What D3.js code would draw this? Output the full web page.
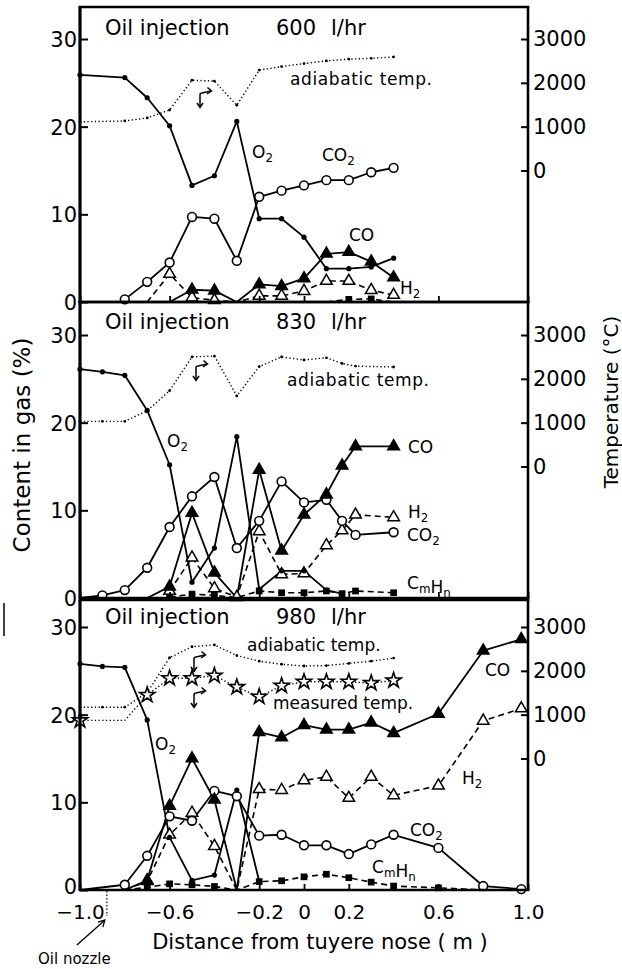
<!DOCTYPE html>
<html><head><meta charset="utf-8">
<script src="https://cdn.jsdelivr.net/npm/d3@7"></script>
<style>
body{margin:0;background:#fff}
svg{display:block}
text{font-family:"DejaVu Sans",sans-serif;fill:#000}
</style>
</head><body>
<svg id="c" width="622" height="969"></svg>
<script>
// ---------------- DATA ----------------
const xTicks = [-1.0, -0.6, -0.2, 0, 0.2, 0.6, 1.0];
const xTickLabels = ["−1.0", "−0.6", "−0.2", "0", "0.2", "0.6", "1.0"];
const yTicks = [0, 10, 20, 30];
const tempTicks = [0, 1000, 2000, 3000];
const oilRates = ["600", "830", "980"];
const nozzleX = -0.88;

// Panel 1 : 600 l/hr
const p1x      = [-1.0, -0.8, -0.7, -0.6, -0.5, -0.4, -0.3, -0.2, -0.1, 0.0, 0.1, 0.2, 0.3, 0.4];
const p1O2     = [25.9, 25.6, 23.3, 20.1, 13.3, 14.4, 20.6, 9.5, 9.5, 7.4, 3.8, 3.8, 4.0, 5.0];
const p1CO2    = [null, 0.3, 2.3, 4.5, 9.7, 9.5, 4.7, 12.0, 12.7, 13.3, 13.9, 13.9, 14.8, 15.3];
const p1CO     = [null, null, null, 0, 1.4, 1.3, 0, 2.0, 1.8, 2.7, 5.5, 5.7, 4.6, 2.8];
const p1H2     = [null, null, 0, 3.2, 0.5, 0.2, 0, 0.7, 0.7, 1.25, 2.4, 2.4, 1.35, 0.8];
const p1CmHn   = [null, null, null, null, null, null, null, null, null, null, 0, 0.3, 0.35, 0];
const p1Adiab  = [1110, 1130, 1200, 1380, 2060, 2040, 1490, 2290, 2370, 2440, 2500, 2540, 2560, 2590];

// Panel 2 : 830 l/hr
const p2x      = [-1.0, -0.9, -0.8, -0.7, -0.6, -0.5, -0.4, -0.3, -0.2, -0.1, 0.0, 0.1, 0.17, 0.23, 0.4];
const p2O2     = [26.1, 25.8, 25.4, 21.4, 15.2, 1.8, 5.7, 18.4, 1.0, 3.1, 3.1, 0.9, 0.5, null, null];
const p2CO2    = [0, 0.3, 0.9, 3.45, 8.1, 11.6, 13.8, 5.7, 8.8, 13.3, 10.9, 11.2, 8.8, 7.2, 7.5];
const p2CO     = [null, null, null, 0, 1.3, 9.7, 2.9, 0, 14.6, 5.4, 9.5, 11.8, 15.1, 17.3, 17.3];
const p2H2     = [null, null, null, null, 0.8, 4.6, 1.1, 0.1, 7.6, 2.7, 2.8, 6.0, 7.7, 9.5, 9.2];
const p2CmHn   = [null, null, null, null, 0.1, 0.45, 0.3, 0.05, 0.8, 0.6, 0.6, 0.8, 0.5, 0.8, 0.6];
const p2Adiab  = [1030, 1030, 1030, 1270, 1730, 2500, 2520, 1610, 2280, 2500, 2430, 2480, 2350, 2290, 2270];

// Panel 3 : 980 l/hr
const p3x      = [-1.0, -0.9, -0.8, -0.7, -0.6, -0.5, -0.4, -0.3, -0.2, -0.1, 0.0, 0.1, 0.2, 0.3, 0.4, 0.6, 0.8, 0.97];
const p3O2     = [25.8, 25.5, 25.4, 19.4, 6.0, 1.1, 1.7, 11.4, 1.0, null, null, null, null, null, null, null, null, null];
const p3CO2    = [0, null, 0.6, 3.9, 8.4, 7.9, 11.3, 10.7, 6.2, 6.3, 5.1, 5.1, 4.1, 5.2, 6.3, 4.8, 0.45, 0.1];
const p3CO     = [null, null, 0, 1.1, 9.6, 15.0, 10.3, 0, 18.0, 17.4, 18.8, 18.3, 18.3, 19.1, 17.9, 20.1, 27.3, 28.6];
const p3H2     = [null, null, 0, 1.0, 6.3, 8.8, 5.0, 0, 11.5, 11.4, 12.5, 12.9, 10.5, 12.9, 10.8, 11.9, 19.3, 20.7];
const p3CmHn   = [null, null, 0, 0.3, 0.7, 0.6, 0.4, 0, 0.95, 1.05, 1.5, 1.8, 1.4, 0.9, 0.45, 0.25, 0, null];
const p3Adiab  = [1170, 1170, 1170, 1500, 2300, 2550, 2590, 2350, 2220, 2150, 2110, 2120, 2170, 2220, 2290, null, null, null];
const p3Meas   = [870, null, 870, 1450, 1830, 1830, 1890, 1630, 1410, 1660, 1750, 1750, 1750, 1720, 1780, null, null, null];
const p3MeasKnots = [-0.8];

// ---------------- DRAW ----------------
const svg = d3.select("#c");
const X = d3.scaleLinear().domain([-1, 1]).range([80, 528]);

const styles = {
  O2:   {dash: null,      w: 1.8, marker: "dot"},
  CO2:  {dash: null,      w: 1.8, marker: "circle"},
  CO:   {dash: null,      w: 1.8, marker: "tri"},
  H2:   {dash: "6,4",     w: 1.6, marker: "otri"},
  CmHn: {dash: "6,4",     w: 1.6, marker: "square"},
  adiab:{dash: "1.3,2.4", w: 1.4, marker: "sdot", temp: true},
  meas: {dash: "1.3,2.4", w: 1.4, marker: "star", temp: true}
};

const panels = [
  {top: 7,   zero: 302, xs: p1x, s: {O2: p1O2, CO2: p1CO2, CO: p1CO, H2: p1H2, CmHn: p1CmHn, adiab: p1Adiab}},
  {top: 302, zero: 598, xs: p2x, s: {O2: p2O2, CO2: p2CO2, CO: p2CO, H2: p2H2, CmHn: p2CmHn, adiab: p2Adiab}},
  {top: 600, zero: 890, xs: p3x, s: {O2: p3O2, CO2: p3CO2, CO: p3CO, H2: p3H2, CmHn: p3CmHn, adiab: p3Adiab, meas: p3Meas}}
];

function marker(g, type, x, y) {
  if (type === "dot") g.append("circle").attr("cx", x).attr("cy", y).attr("r", 2.6).attr("fill", "#000");
  else if (type === "sdot") g.append("circle").attr("cx", x).attr("cy", y).attr("r", 1.4).attr("fill", "#000");
  else if (type === "circle") g.append("circle").attr("cx", x).attr("cy", y).attr("r", 4.4).attr("fill", "#fff").attr("stroke", "#000").attr("stroke-width", 1.6);
  else if (type === "tri" || type === "otri") g.append("path").attr("d", d3.symbol(d3.symbolTriangle, 58)()).attr("transform", `translate(${x},${y})`)
      .attr("fill", type === "tri" ? "#000" : "#fff").attr("stroke", "#000").attr("stroke-width", 1.5);
  else if (type === "square") g.append("path").attr("d", d3.symbol(d3.symbolSquare, 45)()).attr("transform", `translate(${x},${y})`).attr("fill", "#000");
  else if (type === "star") g.append("path").attr("d", d3.symbol(d3.symbolStar, 72)()).attr("transform", `translate(${x},${y})`)
      .attr("fill", "#fff").attr("stroke", "#000").attr("stroke-width", 1.6);
}

function bentArrow(g, x, y) {
  const a = g.append("g").attr("transform", `translate(${x},${y})`).attr("fill", "none").attr("stroke", "#000").attr("stroke-width", 1.5);
  a.append("path").attr("d", "M0,14 L0,2 Q0,0 2,0 L11,-2");
  a.append("path").attr("d", "M-3,10 L0,14.5 L3,10");
  a.append("path").attr("d", "M7.5,-5.5 L11.5,-2 L7,1");
}

function label(g, x, y, parts, size, ls) {
  const t = g.append("text").attr("x", x).attr("y", y).attr("font-size", size || 17);
  if (ls) t.attr("letter-spacing", ls);
  parts.forEach(p => {
    if (typeof p === "string") t.append("tspan").text(p);
    else t.append("tspan").attr("font-size", (size || 17) * 0.7).attr("dy", p.sub ? 4 : -4).text(p.t);
  });
  return t;
}
const sub = (t) => [{t, sub: true}];

panels.forEach((P, i) => {
  const g = svg.append("g");
  const Y = d3.scaleLinear().domain([0, 30]).range([P.zero, P.zero - 263]);
  const T = d3.scaleLinear().domain([0, 3000]).range([Y(15), Y(30)]);

  const order = ["adiab", "meas", "CmHn", "H2", "CO2", "CO", "O2"];
  order.forEach(k => {
    const vals = P.s[k]; if (!vals) return;
    const st = styles[k];
    const sc = st.temp ? T : Y;
    const pts = P.xs.map((x, j) => [x, vals[j]]).filter(d => d[1] !== null);
    const line = d3.line().x(d => X(d[0])).y(d => sc(d[1]));
    g.append("path").attr("d", line(pts)).attr("fill", "none").attr("stroke", "#000")
      .attr("stroke-width", st.w).attr("stroke-dasharray", st.dash).attr("stroke-linejoin", "round");
  });
  order.forEach(k => {
    const vals = P.s[k]; if (!vals) return;
    const st = styles[k];
    const sc = st.temp ? T : Y;
    P.xs.forEach((x, j) => {
      const v = vals[j];
      if (v === null || v === 0) return;
      if (k === "meas" && p3MeasKnots.includes(x)) return;
      marker(g, st.marker, X(x), sc(v));
    });
  });

  // frame
  const fr = g.append("g").attr("stroke", "#000").attr("fill", "none");
  fr.append("line").attr("x1", X(-1)).attr("x2", X(-1)).attr("y1", P.top).attr("y2", P.zero).attr("stroke-width", 3.2);
  fr.append("line").attr("x1", X(1)).attr("x2", X(1)).attr("y1", P.top).attr("y2", P.zero + 1).attr("stroke-width", 2.6);
  fr.append("line").attr("x1", X(-1) - 1.5).attr("x2", X(1) + 1.3).attr("y1", P.top).attr("y2", P.top).attr("stroke-width", 2.6);
  fr.append("line").attr("x1", X(-1) - 1.5).attr("x2", X(1) + 1.3).attr("y1", P.zero).attr("y2", P.zero).attr("stroke-width", 2.6);

  const la = g.append("g").attr("transform", `translate(${X(-1)},0)`)
    .call(d3.axisLeft(Y).tickValues(yTicks).tickSize(-8).tickPadding(3).tickFormat(d3.format("d")));
  la.select(".domain").remove();
  la.selectAll("line").attr("stroke-width", 2);
  la.selectAll("text").attr("font-size", 21).attr("font-family", "DejaVu Sans")
    .attr("dy", d => (i === 2 && d === 0) ? "0.18em" : "0.36em");

  const ra = g.append("g").attr("transform", `translate(${X(1)},0)`)
    .call(d3.axisRight(T).tickValues(tempTicks).tickSize(-7).tickPadding(5).tickFormat(d3.format("d")));
  ra.select(".domain").remove();
  ra.selectAll("line").attr("stroke-width", 2);
  ra.selectAll("text").attr("font-size", 21).attr("font-family", "DejaVu Sans");

  const ba = g.append("g").attr("transform", `translate(0,${P.zero})`)
    .call(d3.axisBottom(X).tickValues(xTicks).tickSize(-6).tickPadding(15).tickFormat((d, j) => xTickLabels[j]));
  ba.select(".domain").remove();
  ba.selectAll("line").attr("stroke-width", 1.8);
  if (i < 2) ba.selectAll("text").remove();
  else ba.selectAll("text").attr("font-size", 20).attr("font-family", "DejaVu Sans");

  const base = [35, 329, 624][i];
  g.append("text").attr("x", 105).attr("y", base).attr("font-size", 21).text("Oil injection");
  g.append("text").attr("x", 276).attr("y", base).attr("font-size", 21).text(oilRates[i]);
  g.append("text").attr("x", 331).attr("y", base).attr("font-size", 21).text("l/hr");
});

// annotations panel 1
const A = svg.append("g");
label(A, 290, 85, ["adiabatic  temp."], 17, 0.6);
label(A, 252, 158, ["O"].concat(sub("2")));
label(A, 322, 161, ["CO"].concat(sub("2")));
label(A, 349, 241, ["CO"]);
label(A, 400, 294, ["H"].concat(sub("2")));
bentArrow(A, 200, 93);
// panel 2
label(A, 287, 386, ["adiabatic  temp."], 17, 0.6);
label(A, 167, 447, ["O"].concat(sub("2")));
label(A, 408, 453, ["CO"]);
label(A, 408, 518, ["H"].concat(sub("2")));
label(A, 407, 541, ["CO"].concat(sub("2")));
label(A, 407, 589, ["C", {t: "m", sub: true}, "H", {t: "n", sub: true}]);
bentArrow(A, 196, 366);
// panel 3
label(A, 247, 651, ["adiabatic  temp."], 17);
label(A, 273, 709, ["measured  temp."], 17);
label(A, 155, 750, ["O"].concat(sub("2")));
label(A, 485, 676, ["CO"]);
label(A, 462, 784, ["H"].concat(sub("2")));
label(A, 410, 836, ["CO"].concat(sub("2")));
label(A, 372, 873, ["C", {t: "m", sub: true}, "H", {t: "n", sub: true}]);
bentArrow(A, 194, 657);
bentArrow(A, 194, 693);

// axis titles
svg.append("text").attr("transform", "translate(30,445) rotate(-90)").attr("text-anchor", "middle")
  .attr("font-size", 23).text("Content in gas (%)");
svg.append("text").attr("transform", "translate(618,402) rotate(-90)").attr("text-anchor", "middle")
  .attr("font-size", 20).text("Temperature (°C)");
svg.append("text").attr("x", 320).attr("y", 949).attr("text-anchor", "middle").attr("font-size", 21)
  .text("Distance from tuyere nose ( m )");

// oil nozzle
const nx = X(nozzleX);
svg.append("line").attr("x1", nx).attr("x2", nx).attr("y1", 891).attr("y2", 916)
  .attr("stroke", "#000").attr("stroke-width", 1.2).attr("stroke-dasharray", "1.5,2");
svg.append("path").attr("d", `M${nx - 30},945 L${nx - 3},921`).attr("stroke", "#000").attr("stroke-width", 1.3).attr("fill", "none");
svg.append("path").attr("d", `M${nx - 9},922 L${nx - 2},920 L${nx - 4},927`).attr("stroke", "#000").attr("stroke-width", 1.3).attr("fill", "none");
svg.append("text").attr("x", 38).attr("y", 964).attr("font-size", 15).text("Oil nozzle");
// scan mark
svg.append("line").attr("x1", 4).attr("x2", 4).attr("y1", 603).attr("y2", 636).attr("stroke", "#000").attr("stroke-width", 1.5);
</script>
</body></html>
